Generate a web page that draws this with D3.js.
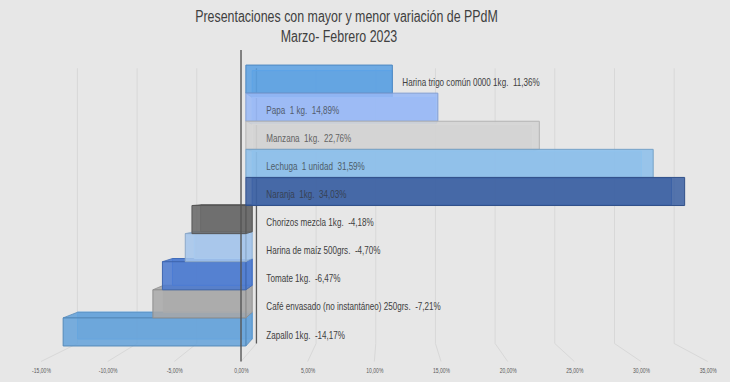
<!DOCTYPE html>
<html><head><meta charset="utf-8">
<script src="https://cdn.jsdelivr.net/npm/d3@7"></script>
<style>
html,body{margin:0;padding:0;background:#e7e7e7;}
svg{display:block;}
text{font-family:'Liberation Sans','Arial',sans-serif;}
</style></head>
<body><svg id="c" width="730" height="382"></svg>
<script>
const categories = ["Harina trigo común 0000 1kg.", "Papa  1 kg.", "Manzana  1kg.", "Lechuga  1 unidad", "Naranja  1kg.",
  "Chorizos mezcla 1kg.", "Harina de maíz 500grs.", "Tomate 1kg.", "Café envasado (no instantáneo) 250grs.", "Zapallo 1kg."];
const values = [11.36, 14.89, 22.76, 31.59, 34.03, -4.18, -4.70, -6.47, -7.21, -14.17];
const colors = ["#5a9fe2", "#97b8f6", "#d3d3d3", "#8bbeea", "#3a5fa2", "#666666", "#a4c5eb", "#4a79cf", "#a8a8a8", "#64a2da"];
const tickValues = [-15, -10, -5, 0, 5, 10, 15, 20, 25, 30, 35];
const titleLines = ["Presentaciones con mayor y menor variación de PPdM", "Marzo- Febrero 2023"];

const W = 730, H = 382;
const svg = d3.select("#c");
svg.append("rect").attr("width", W).attr("height", H).attr("fill", "#e7e7e7");

function condense(sel, factor) {
  sel.each(function () {
    const len = this.getComputedTextLength();
    if (len > 0) d3.select(this).attr("textLength", len * factor).attr("lengthAdjust", "spacingAndGlyphs");
  });
  return sel;
}

const Cx = 388, Cy = 190;
const kFloor = 1, kFront = 0.967, kBack = 0.924, kWall = 0.895;
const x = d3.scaleLinear().domain([-15, 35]).range([41, 707.7]);
const y = d3.scaleBand().domain(categories).range([60.8, 351.3]).padding(0);
const yTop = 54, yFloor = 361.5;
const P = (xw, yw, k) => [Cx + (xw - Cx) * k, Cy + (yw - Cy) * k];
const poly = pts => "M" + pts.map(p => p.join(",")).join("L") + "Z";
const fmt = v => d3.format(".2f")(v).replace("\u2212", "-").replace(".", ",") + "%";

// back wall gridlines + floor lines
const grid = svg.append("g");
tickValues.forEach(t => {
  const a = P(x(t), yTop, kWall), b = P(x(t), yFloor, kWall);
  grid.append("line").attr("x1", a[0]).attr("y1", a[1]).attr("x2", b[0]).attr("y2", b[1])
    .attr("stroke", "#d8d8d8").attr("stroke-width", 1);
  const f = P(x(t), yFloor, kFloor);
  grid.append("line").attr("x1", b[0]).attr("y1", b[1]).attr("x2", f[0]).attr("y2", f[1])
    .attr("stroke", "#d8d8d8").attr("stroke-width", 1);
});
{
  const a = P(x(0), yTop, kWall), b = P(x(0), yFloor, kWall);
  svg.append("line").attr("x1", a[0]).attr("y1", a[1]).attr("x2", b[0]).attr("y2", b[1])
    .attr("stroke", "#5a5a5a").attr("stroke-width", 1.3);
}

// bars
const rows = categories.map((c, i) => ({c, v: values[i], col: colors[i], i}));
const order = rows.slice().sort((a, b) => {
  const da = Math.abs(y(a.c) + y.bandwidth() / 2 - Cy), db = Math.abs(y(b.c) + y.bandwidth() / 2 - Cy);
  return db - da;
});
const gBars = svg.append("g");
order.forEach(r => {
  const xL = Math.min(x(0), x(r.v)), xR = Math.max(x(0), x(r.v));
  const yT = y(r.c), yB = yT + y.bandwidth();
  const g = gBars.append("g");
  const stroke = d3.color(r.col).darker(0.45).formatHex();
  const light = d3.color(r.col).brighter(0.4).formatHex();
  g.append("path").attr("d", poly([P(xL, yT, kBack), P(xR, yT, kBack), P(xR, yB, kBack), P(xL, yB, kBack)]))
    .attr("fill", r.col).attr("fill-opacity", 0.5).attr("stroke", light).attr("stroke-width", 1);
  const faces = [];
  if (yT > Cy) faces.push([P(xL, yT, kFront), P(xR, yT, kFront), P(xR, yT, kBack), P(xL, yT, kBack)]);
  if (yB < Cy) faces.push([P(xL, yB, kFront), P(xR, yB, kFront), P(xR, yB, kBack), P(xL, yB, kBack)]);
  if (xL > Cx) faces.push([P(xL, yT, kFront), P(xL, yB, kFront), P(xL, yB, kBack), P(xL, yT, kBack)]);
  if (xR < Cx) faces.push([P(xR, yT, kFront), P(xR, yB, kFront), P(xR, yB, kBack), P(xR, yT, kBack)]);
  faces.forEach(f => g.append("path").attr("d", poly(f)).attr("fill", r.col).attr("fill-opacity", 0.88)
    .attr("stroke", stroke).attr("stroke-width", 0.8));
  g.append("path").attr("d", poly([P(xL, yT, kFront), P(xR, yT, kFront), P(xR, yB, kFront), P(xL, yB, kFront)]))
    .attr("fill", r.col).attr("fill-opacity", 0.86).attr("stroke", stroke).attr("stroke-width", 1);
});

{
  const a = P(x(0), yTop - 4, kFloor), b = P(x(0), yFloor, kFloor);
  svg.append("line").attr("x1", a[0]).attr("y1", a[1]).attr("x2", b[0]).attr("y2", b[1])
    .attr("stroke", "#555").attr("stroke-width", 1.4);
}

// labels
const outside = new Set([categories[0]]);
const gLab = svg.append("g");
rows.forEach(r => {
  const yc = y(r.c) + y.bandwidth() / 2 + 3;
  const inside = r.v > 0 && !outside.has(r.c);
  let lx, fill = "#404040";
  if (r.v > 0 && outside.has(r.c)) lx = P(x(r.v), yc, kFront)[0] + 10;
  else lx = P(x(0), yc, kFront)[0] + 20.5;
  if (inside) fill = d3.interpolateRgb("#3c3c3c", d3.color(r.col).darker(0.6))(0.35);
  gLab.append("text").attr("x", lx).attr("y", P(x(0), yc, kFront)[1]).attr("dy", "0.35em")
    .attr("font-size", 10.5).attr("fill", fill).style("white-space", "pre")
    .text(r.c + "  " + fmt(r.v));
});
condense(gLab.selectAll("text"), 0.77);

const axisG = svg.append("g").attr("transform", `translate(0,${yFloor + 5})`)
  .call(d3.axisBottom(x).tickValues(tickValues).tickFormat(fmt).tickSize(0).tickPadding(2));
axisG.select(".domain").remove();
axisG.selectAll("text").attr("font-size", 7).attr("fill", "#5a5a5a")
  .style("font-family", "'Liberation Sans',sans-serif");
condense(axisG.selectAll("text"), 0.72);

const titles = svg.append("g");
titles.append("text").attr("x", 346.5).attr("y", 22).attr("text-anchor", "middle")
  .attr("font-size", 16).attr("fill", "#404040").text(titleLines[0]);
titles.append("text").attr("x", 339).attr("y", 42).attr("text-anchor", "middle")
  .attr("font-size", 16).attr("fill", "#404040").text(titleLines[1]);
condense(titles.selectAll("text"), 0.775);
</script></body></html>
